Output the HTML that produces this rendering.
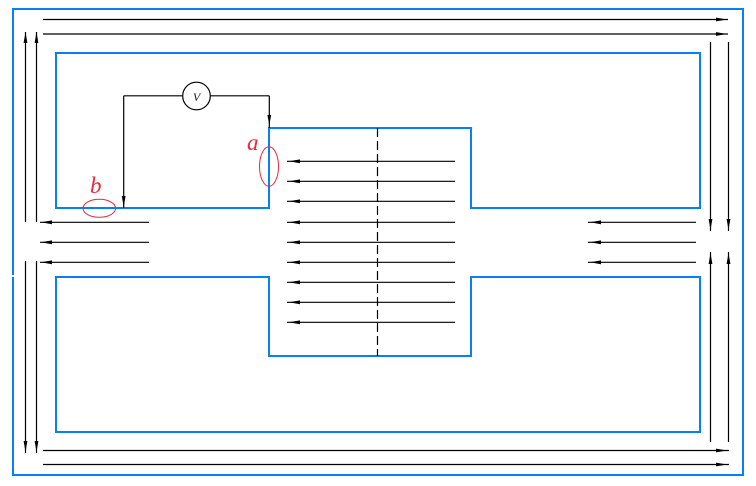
<!DOCTYPE html>
<html>
<head>
<meta charset="utf-8">
<style>
html,body{margin:0;padding:0;background:#fff;}
svg{display:block;}
</style>
</head>
<body>
<svg width="756" height="486" viewBox="0 0 756 486" xmlns="http://www.w3.org/2000/svg">
<rect x="0" y="0" width="756" height="486" fill="#fff"/>
<!-- outer blue rect -->
<rect x="13" y="9" width="730" height="466" fill="none" stroke="#0a7ff5" stroke-width="2"/>
<rect x="11" y="275" width="4" height="2" fill="#fff"/>
<!-- upper inner shape -->
<path d="M56,53 H700 V208 H471 V128 H269 V208 H56 Z" fill="none" stroke="#0a7ff5" stroke-width="2"/>
<!-- lower inner shape -->
<path d="M56,277 H269 V356 H471 V277 H700 V432 H56 Z" fill="none" stroke="#0a7ff5" stroke-width="2"/>

<g stroke="#000" stroke-width="1.2" fill="none">
  <!-- top lines -->
  <line x1="43" y1="19.5" x2="728" y2="19.5"/>
  <line x1="43" y1="34" x2="728" y2="34"/>
  <!-- bottom lines -->
  <line x1="43" y1="450.5" x2="729" y2="450.5"/>
  <line x1="43" y1="464.5" x2="729" y2="464.5"/>
  <!-- left verticals -->
  <line x1="25.5" y1="32" x2="25.5" y2="222"/>
  <line x1="36.5" y1="32" x2="36.5" y2="222"/>
  <line x1="25.5" y1="261" x2="25.5" y2="453"/>
  <line x1="36.5" y1="261" x2="36.5" y2="453"/>
  <!-- right verticals -->
  <line x1="710.5" y1="42" x2="710.5" y2="231"/>
  <line x1="728.5" y1="42" x2="728.5" y2="231"/>
  <line x1="710.5" y1="252" x2="710.5" y2="442"/>
  <line x1="728.5" y1="252" x2="728.5" y2="442"/>
  <!-- left channel -->
  <line x1="40" y1="222.3" x2="149" y2="222.3"/>
  <line x1="40" y1="242.3" x2="149" y2="242.3"/>
  <line x1="40" y1="262.3" x2="149" y2="262.3"/>
  <!-- right channel -->
  <line x1="588" y1="222.3" x2="696" y2="222.3"/>
  <line x1="588" y1="242.3" x2="696" y2="242.3"/>
  <line x1="588" y1="262.3" x2="696" y2="262.3"/>
  <!-- center lines -->
  <line x1="287" y1="161.3" x2="455" y2="161.3"/>
  <line x1="287" y1="181.3" x2="455" y2="181.3"/>
  <line x1="287" y1="201.3" x2="455" y2="201.3"/>
  <line x1="287" y1="222.3" x2="455" y2="222.3"/>
  <line x1="287" y1="242.3" x2="455" y2="242.3"/>
  <line x1="287" y1="262.3" x2="455" y2="262.3"/>
  <line x1="287" y1="282.3" x2="455" y2="282.3"/>
  <line x1="287" y1="302.3" x2="455" y2="302.3"/>
  <line x1="287" y1="322.3" x2="455" y2="322.3"/>
  <!-- dashed center -->
  <line x1="377.5" y1="128" x2="377.5" y2="356" stroke-dasharray="9,4"/>
  <!-- voltmeter wiring -->
  <line x1="123.7" y1="95.8" x2="182.5" y2="95.8"/>
  <line x1="210.5" y1="95.8" x2="269.3" y2="95.8"/>
  <line x1="123.7" y1="95.8" x2="123.7" y2="208"/>
  <line x1="269.3" y1="95.8" x2="269.3" y2="128"/>
  <circle cx="196.5" cy="96" r="13.8"/>
</g>

<!-- arrowheads -->
<g fill="#000">
  <polygon points="727,19.5 716,17.6 716,21.4"/>
  <polygon points="727,34 716,32.1 716,35.9"/>
  <polygon points="727,450.5 716,448.6 716,452.4"/>
  <polygon points="727,464.5 716,462.6 716,466.4"/>
  <polygon points="25.5,32 23.6,43 27.4,43"/>
  <polygon points="36.5,32 34.6,43 38.4,43"/>
  <polygon points="25.5,452 23.6,441 27.4,441"/>
  <polygon points="36.5,452 34.6,441 38.4,441"/>
  <polygon points="710.5,230 708.6,219 712.4,219"/>
  <polygon points="728.5,230 726.6,219 730.4,219"/>
  <polygon points="710.5,253 708.6,264 712.4,264"/>
  <polygon points="728.5,253 726.6,264 730.4,264"/>
  <polygon points="41,222.3 52,220.4 52,224.2"/>
  <polygon points="41,242.3 52,240.4 52,244.2"/>
  <polygon points="41,262.3 52,260.4 52,264.2"/>
  <polygon points="590,222.3 601,220.4 601,224.2"/>
  <polygon points="590,242.3 601,240.4 601,244.2"/>
  <polygon points="590,262.3 601,260.4 601,264.2"/>
  <polygon points="289,161.3 300,159.4 300,163.2"/>
  <polygon points="289,181.3 300,179.4 300,183.2"/>
  <polygon points="289,201.3 300,199.4 300,203.2"/>
  <polygon points="289,222.3 300,220.4 300,224.2"/>
  <polygon points="289,242.3 300,240.4 300,244.2"/>
  <polygon points="289,262.3 300,260.4 300,264.2"/>
  <polygon points="289,282.3 300,280.4 300,284.2"/>
  <polygon points="289,302.3 300,300.4 300,304.2"/>
  <polygon points="289,322.3 300,320.4 300,324.2"/>
  <polygon points="269.3,125 267.4,115 271.2,115"/>
  <polygon points="123.7,207 121.8,196 125.6,196"/>
</g>

<!-- voltmeter label -->
<text x="196.5" y="101" font-family="Liberation Serif, serif" font-style="italic" font-size="12" text-anchor="middle" fill="#222">V</text>

<!-- red labels and ellipses -->
<g fill="none" stroke="#e8283c" stroke-width="1">
  <ellipse cx="269" cy="166.5" rx="9.5" ry="19.7"/>
  <ellipse cx="99.3" cy="208.3" rx="16.3" ry="9"/>
</g>
<text x="247" y="150" font-family="Liberation Serif, serif" font-style="italic" font-size="23" fill="#e8283c">a</text>
<text x="90" y="193" font-family="Liberation Serif, serif" font-style="italic" font-size="23" fill="#e8283c">b</text>
</svg>
</body>
</html>
